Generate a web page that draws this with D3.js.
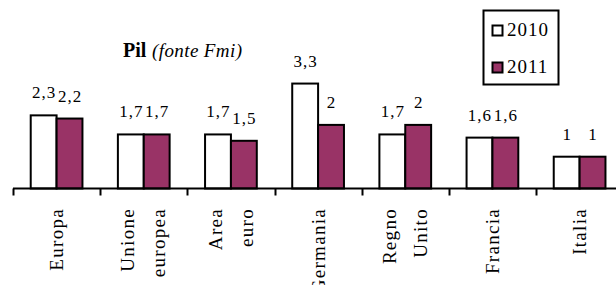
<!doctype html>
<html>

<head>
	<meta charset="utf-8" />
	<script src="https://cdn.jsdelivr.net/npm/d3@7"></script>
</head>

<body style="margin:0">
	<svg width="616" height="285"></svg>

	<script>
		// data
		var categories = ["Europa", "Unione europea", "Area euro", "Germania", "Regno Unito", "Francia", "Italia"];
		var catLines = [["Europa"], ["Unione", "europea"], ["Area", "euro"], ["Germania"], ["Regno", "Unito"], ["Francia"], ["Italia"]];
		var series = ["2010", "2011"];
		var values2010 = [2.3, 1.7, 1.7, 3.3, 1.7, 1.6, 1];
		var values2011 = [2.2, 1.7, 1.5, 2, 2, 1.6, 1];
		var colors = ["#ffffff", "#993366"];

		var FONT = "Liberation Serif";

		var svg = d3.select("svg"),
			width = +svg.attr("width"),
			height = +svg.attr("height");

		var baseY = 188.5;

		var x0 = d3.scaleBand()
			.domain(categories)
			.range([13, 13 + 7 * 87.17])
			.paddingInner(0)
			.paddingOuter(0);

		var x1 = d3.scaleBand()
			.domain(series)
			.range([0, x0.bandwidth()])
			.paddingInner(0)
			.paddingOuter(0.685);

		var y = d3.scaleLinear()
			.domain([0, 4])
			.range([baseY, baseY - 127.2]);

		var color = d3.scaleOrdinal().domain(series).range(colors);

		var rows = categories.map(function (c, i) {
			return { cat: c, lines: catLines[i], vals: [values2010[i], values2011[i]] };
		});

		function fmt(v) {
			return String(v).replace(".", ",");
		}

		// bars
		var groups = svg.append("g").selectAll("g")
			.data(rows)
			.join("g")
			.attr("transform", function (d) { return "translate(" + x0(d.cat) + ",0)"; });

		groups.selectAll("rect")
			.data(function (d) { return series.map(function (s, j) { return { s: s, v: d.vals[j] }; }); })
			.join("rect")
			.attr("x", function (d) { return x1(d.s); })
			.attr("y", function (d) { return y(d.v); })
			.attr("width", x1.bandwidth())
			.attr("height", function (d) { return y(0) - y(d.v); })
			.attr("fill", function (d) { return color(d.s); })
			.attr("stroke", "#000")
			.attr("stroke-width", 2);

		// value labels
		groups.selectAll("text.val")
			.data(function (d) { return series.map(function (s, j) { return { s: s, v: d.vals[j] }; }); })
			.join("text")
			.attr("class", "val")
			.attr("font-family", FONT)
			.attr("font-size", 17)
			.attr("letter-spacing", 1)
			.attr("x", function (d) { return x1(d.s) + x1.bandwidth() / 2 + 0.5; })
			.attr("y", function (d) { return y(d.v) - 17; })
			.attr("text-anchor", "middle")
			.text(function (d) { return fmt(d.v); });

		// x axis: line + ticks on category boundaries
		var axis = svg.append("g");
		axis.append("line")
			.attr("x1", x0.range()[0]).attr("x2", width)
			.attr("y1", baseY).attr("y2", baseY)
			.attr("stroke", "#000").attr("stroke-width", 2);

		axis.selectAll("line.tick")
			.data(categories)
			.join("line")
			.attr("class", "tick")
			.attr("x1", function (d) { return Math.round(x0(d)) + 0.5; })
			.attr("x2", function (d) { return Math.round(x0(d)) + 0.5; })
			.attr("y1", baseY)
			.attr("y2", baseY + 7)
			.attr("stroke", "#000").attr("stroke-width", 2);

		// rotated category labels (Germania is cut at the bottom, as in the original)
		var cats = svg.append("g").selectAll("g")
			.data(rows)
			.join("g")
			.attr("transform", function (d) {
				return "translate(" + (x0(d.cat) + x0.bandwidth() / 2) + ",208) rotate(-90)";
			});

		cats.selectAll("text")
			.data(function (d) {
				var n = d.lines.length;
				return d.lines.map(function (t, k) { return { t: t, off: n == 1 ? 0 : (k == 0 ? -16 : 15) }; });
			})
			.join("text")
			.attr("font-family", FONT)
			.attr("font-size", 19)
			.attr("letter-spacing", 1.3)
			.attr("x", 0)
			.attr("y", function (d) { return d.off; })
			.attr("dy", "0.35em")
			.attr("text-anchor", "end")
			.text(function (d) { return d.t; });

		// title
		var title = svg.append("text")
			.attr("font-family", FONT)
			.attr("x", 123)
			.attr("y", 57);
		title.append("tspan")
			.attr("font-weight", "bold")
			.attr("font-size", 20)
			.text("Pil");
		title.append("tspan")
			.attr("x", 152)
			.attr("font-style", "italic")
			.attr("font-size", 19)
			.attr("letter-spacing", 0.4)
			.text("(fonte Fmi)");

		// legend
		var legend = svg.append("g");
		legend.append("rect")
			.attr("x", 483.5).attr("y", 10.5)
			.attr("width", 75).attr("height", 74)
			.attr("fill", "#fff").attr("stroke", "#000").attr("stroke-width", 2);

		var items = legend.selectAll("g")
			.data(series)
			.join("g")
			.attr("transform", function (d, i) { return "translate(0," + (i * 37) + ")"; });

		items.append("rect")
			.attr("x", 492.5).attr("y", 25.5)
			.attr("width", 10).attr("height", 10)
			.attr("fill", function (d) { return color(d); })
			.attr("stroke", "#000").attr("stroke-width", 2);

		items.append("text")
			.attr("font-family", FONT)
			.attr("x", 507)
			.attr("y", 36)
			.attr("font-size", 19)
			.attr("letter-spacing", 1)
			.text(function (d) { return d; });
	</script>
</body>

</html>
